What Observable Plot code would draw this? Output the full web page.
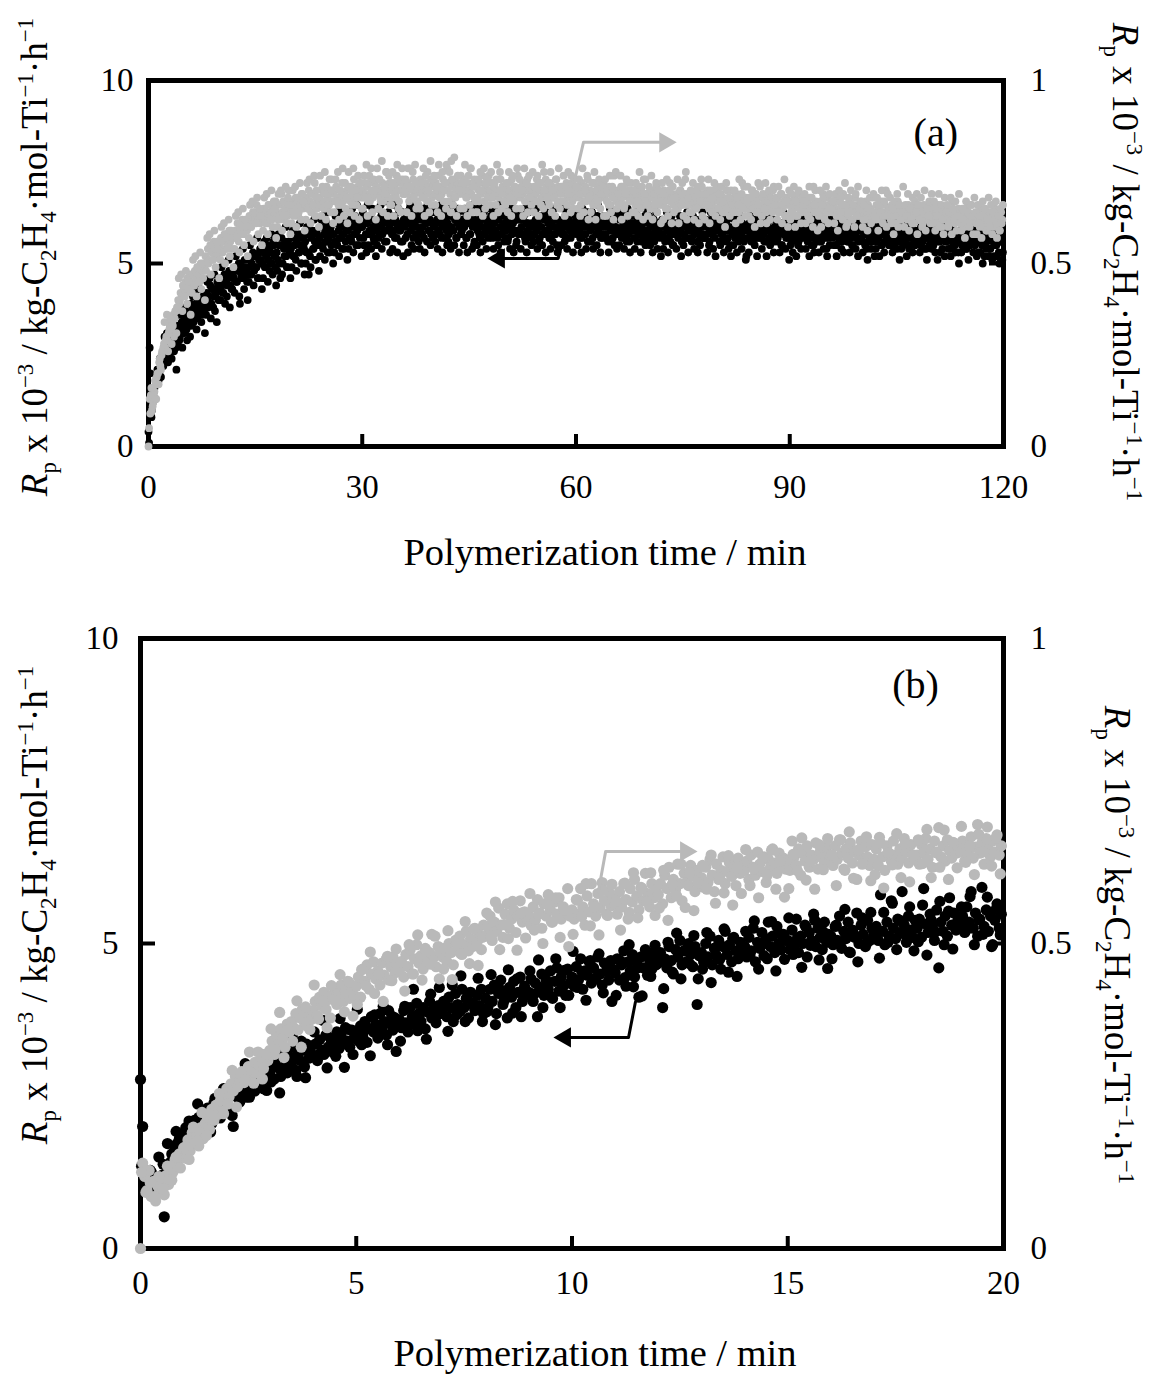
<!DOCTYPE html>
<html><head><meta charset="utf-8">
<script src="https://cdn.jsdelivr.net/npm/d3@7"></script>
<script src="https://cdn.jsdelivr.net/npm/@observablehq/plot@0.6"></script>
<style>
body{margin:0;background:#fff;}
#wrap{position:relative;width:1163px;height:1378px;}
#wrap svg{position:absolute;left:0;overflow:visible;}
</style></head><body><div id="wrap"></div>
<script>
// ---------- tick labels ----------
const xTicksA = [0, 30, 60, 90, 120];
const xTicksB = [0, 5, 10, 15, 20];
const yTicksLeft = [0, 5, 10];
const yTicksRight = [0, 0.5, 1];
const axisTitleX = "Polymerization time / min";
const panelLabels = ["(a)", "(b)"];

// ---------- sampling interval (min) ----------
const stepA = 10 / 60;   // panel (a): readings every 10 s, second set offset by 5 s
const stepB = 3 / 60;    // panel (b): readings every 3 s
const stepB2 = 6 / 60;   // panel (b): extra readings every 6 s, offset 1.5 s

// ---------- panel (a): Rp, left axis, units 0.1 x 10^3 (black) ----------
const rpBlackA = [
4,27,13,10,14,16,18,19,21,20,23,22,
24,27,25,26,28,24,27,29,26,28,30,27,
31,33,29,32,34,31,35,33,32,36,34,30,
36,38,34,37,39,35,38,40,37,36,41,38,
40,42,38,41,44,39,43,41,37,42,45,40,
43,46,44,42,47,45,41,46,48,44,43,47,
46,49,45,48,50,39,47,49,46,51,48,45,
49,51,47,50,53,48,52,49,46,51,54,50,
50,53,49,52,55,51,48,53,50,56,52,49,
53,51,55,46,57,50,54,56,52,49,55,53,
54,57,52,55,51,56,58,53,55,50,57,54,
56,53,58,47,52,57,59,54,56,51,58,55,
57,55,60,54,58,56,61,53,57,59,55,58,
58,56,61,55,59,57,62,54,58,60,56,59,
59,57,62,56,60,58,63,55,59,61,57,60,
60,57,62,58,61,55,59,63,58,60,56,61,
59,62,57,60,63,58,61,56,62,59,64,60,
61,58,63,59,62,57,60,64,59,61,56,62,
60,63,58,61,65,59,62,57,61,64,60,58,
62,59,64,60,57,63,61,66,59,62,58,61,
60,64,58,62,59,65,61,57,63,60,62,59,
61,58,63,60,66,59,62,57,61,64,60,58,
59,62,60,64,57,61,63,58,62,60,55,61,
62,59,61,57,63,60,65,58,60,62,59,61,
60,63,58,61,59,64,57,62,60,58,63,59,
61,59,62,57,60,64,58,61,63,59,56,62,
59,62,60,58,63,57,61,59,64,60,58,61,
60,58,62,59,61,56,63,60,58,62,59,64,
62,59,57,61,60,63,58,60,55,62,59,61,
59,61,58,63,60,57,62,59,61,58,64,60,
60,58,62,59,61,57,60,63,58,60,56,61,
59,61,57,62,60,58,63,59,61,57,60,58,
61,58,60,56,62,59,61,57,60,63,58,59,
58,62,59,60,57,61,58,63,59,56,61,60,
60,57,61,59,62,58,60,56,61,59,63,58,
59,61,57,60,58,62,56,59,61,58,60,57,
61,58,60,56,62,59,57,61,58,60,55,59,
58,60,57,61,59,56,62,58,60,57,61,59,
60,57,59,62,58,60,56,59,61,57,60,58,
57,61,58,60,55,59,62,58,60,57,59,61,
59,56,60,58,61,57,59,62,57,60,55,59,
58,60,57,59,62,56,59,58,61,57,60,51,
59,57,61,58,60,56,59,62,57,60,58,59,
57,60,58,61,56,59,60,57,62,58,59,56,
60,58,57,61,59,55,60,58,61,57,59,60,
58,60,56,59,57,61,58,55,60,57,59,62,
57,59,61,56,58,60,57,59,55,61,58,57,
59,56,58,60,57,61,58,54,59,57,60,58,
57,60,58,55,59,61,57,58,56,60,58,57,
58,56,60,57,59,55,61,58,57,59,56,60,
57,59,56,60,58,54,59,57,61,56,58,57,
59,56,58,57,60,55,58,61,56,59,57,58,
56,59,57,60,55,58,57,61,56,58,54,59,
58,56,59,57,60,55,58,57,61,56,59,57,
57,59,55,58,56,60,57,54,59,57,61,56,
58,55,59,57,60,56,58,53,59,57,60,56,
56,59,57,54,60,56,58,55,59,57,53,58,
57,55,59,56,58,54,60,57,55,58,56,59,
55,58,56,53,59,57,55,58,52,57,56,59,
57,54,58,56,52,59,55,57,53,58,56,51
];
const rpBlackA2 = [
1,20,8,12,15,13,17,21,18,24,19,25,
22,30,25,31,23,28,33,24,29,26,32,21,
28,36,30,38,27,34,31,37,29,35,33,39,
33,41,35,42,32,39,36,43,34,40,38,31,
36,45,39,46,35,43,38,47,41,34,44,40,
40,49,42,50,39,47,44,51,38,48,43,46,
42,52,45,53,41,50,46,54,43,49,47,40,
45,55,47,56,44,52,49,57,46,53,51,43,
46,56,49,57,45,54,50,58,47,55,52,44,
48,58,50,59,47,55,52,60,49,56,54,46,
49,59,52,60,48,57,53,61,50,58,55,47,
50,60,53,61,49,58,54,62,51,59,56,48,
52,62,55,63,51,59,56,64,53,60,58,50,
53,63,56,64,52,60,57,65,54,61,59,51,
54,64,57,65,53,61,58,66,55,62,60,52,
64,55,61,53,66,58,62,54,65,57,60,52,
55,65,58,66,54,62,59,67,56,63,61,53,
63,54,66,57,61,53,65,59,56,64,52,62,
57,64,53,62,66,55,60,54,65,58,63,56,
54,62,58,65,53,61,56,66,59,55,64,57,
65,56,61,54,63,58,66,53,60,57,64,55,
56,63,54,66,59,55,62,57,65,53,61,58,
62,55,65,57,53,64,58,61,54,66,56,60,
55,66,58,53,62,56,64,59,54,61,57,65,
63,57,54,65,58,62,55,66,53,60,64,56,
57,64,56,61,54,66,59,53,63,55,62,58,
64,54,62,58,65,56,53,61,57,66,55,60,
56,61,65,54,60,57,63,55,66,58,53,62,
61,57,54,64,56,65,58,62,53,60,66,55,
58,65,56,62,54,60,64,57,61,53,59,63,
62,55,63,57,53,65,58,61,54,64,56,60,
56,64,54,60,62,55,66,58,53,61,57,63,
63,57,61,53,65,56,59,62,55,60,54,64,
55,62,57,64,54,60,56,65,58,53,63,59,
61,54,64,56,62,58,53,60,57,65,55,62,
56,63,55,60,53,62,57,64,54,59,61,52,
62,54,60,57,64,53,59,56,63,55,61,58,
54,61,58,63,52,60,55,62,57,64,53,59,
60,56,63,54,59,62,53,61,55,58,64,57,
57,62,53,60,56,64,58,54,61,52,63,59,
61,55,58,63,53,60,56,62,54,59,52,64,
55,62,57,53,61,58,63,54,60,56,59,52,
60,53,63,56,58,62,55,59,52,61,57,64,
54,61,56,60,52,63,57,55,62,58,53,60,
62,56,59,53,61,55,64,58,54,60,57,51,
55,60,53,62,57,52,61,56,63,54,59,58,
60,54,61,57,52,63,55,59,53,62,56,58,
53,62,56,59,54,61,57,52,60,55,63,58,
61,55,58,52,62,56,60,54,59,53,57,63,
56,60,53,61,55,58,62,54,57,52,61,59,
59,53,62,55,58,51,60,56,54,61,57,52,
54,60,57,52,61,55,59,53,62,56,58,55,
61,55,53,59,56,62,54,58,51,60,57,55,
56,59,52,61,54,57,60,53,58,55,62,56,
58,53,60,56,62,54,57,51,59,55,61,54,
55,60,53,58,51,61,56,59,54,57,52,60,
60,54,57,52,59,55,62,53,58,56,50,59,
53,58,55,61,54,57,51,59,56,60,53,57,
58,52,56,60,53,57,50,59,55,54,61,52,
54,59,51,57,55,60,52,58,50,56,59,53
];

// ---------- panel (a): Rp, right axis, units 0.01 x 10^3 (grey) ----------
const rpGrayA = [
0,13,14,10,12,15,17,19,20,23,22,25,
26,28,27,30,29,31,33,32,34,36,35,37,
38,40,39,42,41,44,43,45,42,46,44,47,
45,47,44,48,46,49,47,45,50,48,46,49,
52,50,54,51,55,53,51,56,54,52,55,53,
55,57,53,56,58,54,57,55,59,56,54,58,
57,59,58,61,56,60,59,62,58,61,60,59,
61,63,60,62,64,61,63,66,62,64,61,63,
63,65,62,64,61,66,63,64,62,65,63,67,
64,62,66,63,69,64,62,65,67,63,70,64,
65,67,64,66,68,65,63,67,66,69,65,67,
66,68,65,70,67,64,69,66,72,68,65,67,
68,66,70,67,69,65,71,68,66,70,73,67,
69,67,71,68,66,70,68,72,67,69,65,70,
68,71,67,70,69,73,68,66,71,69,72,68,
70,68,72,69,71,67,74,69,70,68,72,70,
71,69,73,68,70,72,67,71,75,70,68,72,
70,72,68,71,69,74,70,67,72,70,73,69,
71,69,72,70,76,68,71,73,69,70,67,72,
70,73,69,71,68,72,70,75,69,71,73,68,
71,69,72,70,74,68,71,69,73,70,72,77,
70,72,69,78,71,68,73,70,72,69,71,74,
69,71,73,70,68,72,70,76,69,71,68,72,
71,68,70,72,69,74,70,67,71,73,69,70,
70,72,68,71,69,73,70,68,75,69,71,70,
69,71,68,72,70,67,73,69,71,68,70,74,
70,68,71,69,72,67,70,73,68,71,69,70,
68,71,69,73,67,70,72,68,70,75,69,71,
70,67,72,69,71,68,70,73,66,71,69,70,
69,71,67,70,72,68,69,71,74,67,70,68,
69,71,68,70,66,72,69,67,71,69,73,68,
70,67,69,72,68,70,66,71,69,68,70,72,
68,70,67,69,71,66,70,68,74,69,67,70,
69,67,71,68,70,66,69,72,68,70,67,69,
68,70,66,69,71,67,68,70,66,73,68,69,
67,69,66,70,68,65,69,67,71,68,66,69,
68,66,70,67,69,65,68,72,67,69,66,68,
67,69,65,68,70,66,68,67,73,66,69,67,
68,66,69,67,65,70,67,68,66,69,71,67,
66,68,67,70,65,68,66,69,67,65,68,70,
67,65,69,66,68,64,67,70,66,68,65,67,
66,68,65,69,67,64,68,66,72,67,65,68,
67,65,68,66,70,65,67,69,64,68,66,71,
65,68,66,67,64,69,66,68,65,67,70,66,
67,65,68,64,66,69,65,67,63,68,66,67,
66,64,67,65,68,63,66,69,65,67,64,66,
65,67,64,66,63,68,65,66,71,64,67,65,
66,64,67,65,69,63,66,65,68,64,66,67,
64,66,65,68,63,67,65,64,66,69,64,66,
65,63,67,64,66,62,65,68,64,66,63,65,
66,64,62,65,67,63,66,64,65,62,68,64,
63,66,64,65,62,67,64,63,66,70,64,65,
64,62,66,63,65,61,64,67,63,65,62,64,
65,63,64,62,66,63,65,61,64,66,63,69,
63,65,62,64,61,66,63,64,62,65,63,66,
64,62,65,63,61,66,63,64,60,65,62,64,
63,65,61,64,62,67,63,61,64,62,65,63,
62,64,63,60,65,62,64,61,63,66,62,63,
63,61,64,62,60,65,62,63,61,64,59,63,
62,64,61,63,60,65,62,61,63,59,64,62
];
const rpGrayA2 = [
5,9,16,11,14,18,13,20,17,24,21,26,
27,34,29,36,26,32,35,28,33,30,37,31,
38,46,40,47,37,44,41,48,39,45,43,36,
42,51,44,52,41,49,45,53,43,50,48,40,
48,57,50,58,47,55,51,59,49,56,54,46,
51,60,53,61,50,58,54,62,52,59,57,49,
54,63,57,64,53,61,58,65,55,62,60,52,
57,66,60,67,56,64,61,68,58,65,63,55,
59,68,61,69,58,66,62,70,60,67,65,57,
60,69,62,70,59,67,63,71,61,68,66,58,
61,70,63,71,60,68,64,72,62,69,67,59,
62,72,65,73,61,69,66,74,63,70,68,60,
74,63,71,65,75,62,69,66,73,64,70,61,
64,73,67,75,62,70,66,76,63,72,68,61,
75,64,71,66,76,63,70,68,74,62,72,65,
65,74,68,77,63,72,67,76,64,73,70,62,
76,65,73,67,78,64,71,69,75,63,74,66,
66,75,63,72,68,77,65,73,64,76,69,70,
73,64,76,67,71,63,75,68,77,65,72,66,
65,72,68,76,63,74,67,70,64,78,66,73,
74,66,71,64,77,68,63,75,67,72,65,76,
67,75,64,73,66,79,68,63,74,70,65,72,
72,65,77,68,63,74,66,76,64,71,73,67,
64,73,67,75,70,63,76,65,72,68,74,66,
75,68,63,72,66,77,64,70,73,65,71,67,
66,72,64,75,68,63,74,67,71,65,76,69,
73,65,70,63,76,67,72,64,74,68,66,75,
64,71,67,74,63,72,66,77,65,70,73,68,
72,66,75,64,70,68,63,73,67,76,65,71,
67,74,63,71,66,75,69,64,72,65,73,70,
71,65,73,63,69,76,64,70,67,74,62,68,
64,72,66,75,62,70,67,73,65,69,71,63,
73,63,70,66,74,64,71,62,68,75,65,69,
66,74,62,71,65,69,73,63,70,67,72,64,
70,64,72,67,63,75,65,71,62,69,73,66,
63,71,65,74,62,69,66,72,64,70,67,61,
72,62,69,65,73,63,70,67,61,71,64,68,
65,73,61,70,66,72,63,69,75,62,68,64,
70,64,72,62,68,65,71,61,67,73,63,69,
62,69,66,73,61,70,64,68,72,63,71,65,
69,62,71,64,67,60,72,65,68,63,70,66,
64,70,61,68,66,73,62,69,65,71,63,67,
71,63,68,62,70,65,60,69,64,72,66,61,
63,69,65,72,61,67,70,62,68,64,71,66,
68,62,71,64,69,61,66,73,63,67,60,70,
62,69,64,71,60,67,63,70,65,61,68,66,
69,61,67,63,71,62,68,60,66,70,64,59,
63,70,60,66,68,62,71,64,61,69,65,67,
67,61,69,63,59,70,64,68,62,66,72,60,
61,68,64,70,62,66,60,69,63,71,65,67,
67,60,66,62,70,59,65,68,61,64,69,63,
62,68,59,66,64,70,61,67,63,60,69,65,
68,61,65,58,67,63,69,60,66,62,64,71,
60,66,63,69,59,65,62,68,61,67,64,58,
66,62,68,60,64,70,59,65,63,67,61,69,
61,67,59,65,63,69,60,66,62,58,68,64,
66,60,64,68,58,65,62,67,59,63,69,61,
59,65,62,57,67,61,64,60,66,63,58,68,
64,58,66,61,63,57,67,60,65,59,62,68,
60,66,58,64,62,67,57,63,59,65,61,66
];

// ---------- panel (b): Rp, left axis, units 0.01 x 10^3 (black) ----------
const rpBlackB = [
277,200,124,118,112,125,108,96,115,105,120,52,118,130,142,155,165,172,180,188,
185,198,176,205,192,210,188,215,200,222,195,230,212,205,238,220,228,214,240,232,
245,232,258,200,250,262,240,270,255,248,275,262,280,258,290,268,276,262,295,282,
290,305,278,312,296,282,320,300,288,315,305,330,292,318,308,325,298,335,312,320,
315,335,308,342,325,318,350,330,345,322,338,355,328,348,335,362,340,330,358,345,
352,340,365,348,372,338,360,380,355,368,345,385,362,372,350,390,368,358,378,365,
375,362,390,370,355,395,380,368,402,385,372,395,360,388,405,378,392,370,398,385,
392,405,380,412,395,372,418,400,388,425,395,410,378,420,402,390,415,398,425,385,
410,395,425,405,432,385,418,440,400,422,378,428,412,438,395,420,445,405,430,415,
420,442,405,435,380,428,450,415,440,425,455,410,438,460,422,445,430,415,458,435,
445,430,462,440,475,425,455,448,470,435,460,442,478,450,432,468,455,440,472,458,
452,475,440,465,488,430,470,455,482,445,468,412,478,460,490,448,472,458,485,465,
468,485,395,475,460,495,472,450,490,478,505,465,488,470,500,482,462,495,400,480,
485,470,500,478,512,465,492,480,505,458,495,520,482,498,470,510,488,475,502,490,
495,478,510,488,525,470,502,492,518,480,508,535,495,512,485,528,500,490,515,505,
505,490,522,498,540,485,512,500,530,478,518,505,548,495,525,510,490,535,502,515,
512,498,528,505,545,492,520,508,535,485,522,510,550,500,530,515,495,538,505,525,
515,528,505,580,520,498,535,512,570,525,508,540,518,585,530,502,545,522,510,538,
525,540,510,590,532,518,548,528,505,555,460,535,520,545,512,575,530,550,522,540,
530,545,518,560,535,585,525,550,512,540,592,528,555,520,545,498,538,565,525,548
];
const rpBlackB2 = [
135,105,128,112,150,138,172,155,192,175,
165,209,194,237,192,219,191,246,222,262,
253,218,283,248,303,248,289,276,317,259,
273,336,255,315,298,351,282,340,280,325,
355,317,374,296,338,315,377,297,359,318,
392,334,362,316,383,355,397,334,381,323,
340,397,370,425,357,388,343,417,376,428,
405,356,432,383,447,372,419,397,443,372,
388,449,367,425,406,457,386,442,380,424,
455,417,473,395,437,413,475,395,456,415,
487,428,454,407,472,443,483,419,464,405,
415,471,444,498,429,460,414,487,446,497,
475,426,502,453,517,442,489,467,513,442,
458,518,436,493,474,524,453,508,446,489,
520,481,537,458,499,475,536,455,516,474,
542,482,509,461,527,497,538,473,519,459,
475,530,502,556,486,516,470,542,500,551,
525,476,551,502,566,490,537,514,560,488,
503,563,481,538,519,569,498,553,491,534,
560,521,577,498,539,515,576,495,556,514
];

// ---------- panel (b): Rp, right axis, units 0.001 x 10^3 (grey) ----------
const rpGrayB = [
0,140,118,95,128,85,110,78,102,92,115,88,120,105,132,125,145,138,155,150,
165,148,178,160,190,172,185,168,198,180,205,215,195,228,210,235,220,242,225,250,
262,248,270,258,282,265,275,290,272,285,298,280,292,305,288,300,312,295,318,308,
325,340,318,352,335,360,345,330,368,355,372,362,385,358,378,392,370,365,385,375,
390,405,382,412,398,420,392,408,378,415,425,400,418,432,405,422,438,410,428,415,
430,445,412,458,438,465,425,450,470,442,455,432,468,448,475,440,462,478,452,465,
455,470,445,482,462,490,450,475,498,468,480,458,492,472,485,515,478,462,495,485,
478,492,470,500,485,465,505,490,512,482,498,520,488,508,495,525,502,515,490,530,
512,528,545,505,535,520,558,530,510,548,565,525,540,555,518,545,570,535,552,540,
545,530,560,538,572,550,525,565,545,580,555,535,568,548,575,540,560,552,590,545,
555,540,572,548,590,560,530,578,552,598,565,545,582,558,600,570,548,585,562,575,
565,548,585,560,598,572,540,590,568,605,578,555,592,570,615,582,560,598,575,588,
580,598,565,612,590,625,575,605,588,630,598,570,615,600,595,628,610,585,620,605,
608,592,625,600,638,612,585,630,605,620,642,598,618,632,610,625,595,640,615,628,
620,635,605,645,625,612,650,630,618,642,600,638,625,655,632,615,648,628,640,622,
635,620,668,642,628,655,612,648,635,660,625,645,638,665,622,650,640,632,658,645,
642,628,660,638,670,648,622,655,640,665,632,650,605,645,668,635,658,642,628,662,
638,655,628,665,642,620,660,648,635,668,645,630,655,640,672,650,632,662,645,638,
645,630,662,648,672,638,655,625,668,650,690,642,660,635,670,652,640,665,648,658,
650,668,635,660,645,675,640,658,695,648,665,630,672,655,642,668,650,678,645,660
];
const rpGrayB2 = [
125,92,108,85,118,98,135,112,150,132,
166,146,199,177,223,185,221,217,254,221,
237,292,232,285,276,322,271,322,278,319,
360,326,387,313,359,340,406,330,396,359,
432,376,406,362,431,405,449,388,437,381,
400,457,431,486,418,450,405,479,439,491,
470,422,498,450,514,440,487,466,512,442,
458,521,441,500,483,536,467,524,464,510,
550,512,568,490,531,508,569,489,550,509,
582,522,548,500,565,535,575,510,555,495,
515,571,544,598,529,560,514,587,546,597,
570,522,599,551,616,542,590,569,616,546,
558,620,538,597,578,630,559,616,554,599,
628,589,645,566,607,583,644,563,624,582,
654,595,622,575,641,612,653,589,635,576,
590,646,619,673,604,635,589,662,621,672,
645,595,670,620,683,607,653,630,675,603,
613,674,591,649,629,680,608,664,601,645,
670,631,687,608,649,625,686,605,666,624,
692,633,660,613,679,650,691,627,673,614
];

// ---------- annotation arrows (data units: min, left-axis value) ----------
const arrowShaftsA = [
  {s: "grey",  pts: [[59.8, 7.27], [61.05, 8.31], [72.0, 8.31]]},
  {s: "black", pts: [[58.4, 5.82], [57.5, 5.14], [49.6, 5.14]]}
];
const arrowHeadsA = [{s: "grey", x: 72.5, y: 8.31, rot: 90}, {s: "black", x: 49.2, y: 5.14, rot: -90}];
const arrowShaftsB = [
  {s: "grey",  pts: [[10.61, 5.85], [10.78, 6.51], [12.5, 6.51]]},
  {s: "black", pts: [[11.47, 4.04], [11.31, 3.46], [9.95, 3.46]]}
];
const arrowHeadsB = [{s: "grey", x: 12.64, y: 6.51, rot: 90}, {s: "black", x: 9.84, y: 3.46, rot: -90}];
const panelLabelPos = [{x: 110.5, y: 8.55}, {x: 17.96, y: 9.23}];

// ---------- styling ----------
const GREY = "#b9b9b9";
const FONT = '"Liberation Serif", "Times New Roman", serif';
const colorOf = s => s === "grey" ? GREY : "#000";

const toPts = (arr, step, k, off = 0) => arr.map((v, i) => ({t: (i + off) * step, y: v * k}));
const blackA = toPts(rpBlackA, stepA, 0.1).concat(toPts(rpBlackA2, stepA, 0.1, 0.5));
const greyA  = toPts(rpGrayA,  stepA, 0.1).concat(toPts(rpGrayA2, stepA, 0.1, 0.5)); // right value (v/100) x 10
const blackB = toPts(rpBlackB, stepB, 0.01).concat(toPts(rpBlackB2, stepB2, 0.01, 0.25));
const greyB  = toPts(rpGrayB,  stepB, 0.01).concat(toPts(rpGrayB2, stepB2, 0.01, 0.25)); // right value (v/1000) x 10

const shaftRows = shafts => shafts.flatMap((a, j) => a.pts.map(([x, y]) => ({x, y, s: a.s, id: j})));

function panel({xDomain, xTicks, blk, gry, r, shafts, heads, label, lpos, height, mt, mb, ml, xPad, yPadL, tick}) {
  return Plot.plot({
    width: 1163, height,
    marginLeft: ml, marginRight: 160, marginTop: mt, marginBottom: mb,
    x: {domain: xDomain},
    y: {domain: [0, 10]},
    style: {fontFamily: FONT, fontSize: "33px", color: "#000", background: "transparent", overflow: "visible"},
    marks: [
      Plot.frame({stroke: "#000", strokeWidth: 5}),
      Plot.axisX({ticks: xTicks.slice(1, -1), tickSize: -tick, fill: "none", strokeWidth: 4, label: null}),
      Plot.axisY({anchor: "left", ticks: [5], tickSize: -15, fill: "none", strokeWidth: 4, label: null}),
      Plot.axisY({anchor: "right", ticks: [5], tickSize: -15, fill: "none", strokeWidth: 4, label: null}),
      Plot.axisX({ticks: xTicks, tickSize: 0, tickPadding: xPad, label: null, fontSize: 33}),
      Plot.axisY({anchor: "left", ticks: yTicksLeft, tickSize: 0, tickPadding: yPadL, label: null, fontSize: 33}),
      Plot.axisY({anchor: "right", ticks: yTicksRight.map(v => v * 10), tickFormat: d => String(yTicksRight[yTicksRight.map(v => v * 10).indexOf(d)]), tickSize: 0, tickPadding: 27, label: null, fontSize: 33}),
      Plot.dot(blk, {x: "t", y: "y", r, fill: "#000"}),
      Plot.dot(gry, {x: "t", y: "y", r, fill: GREY}),
      Plot.line(shaftRows(shafts), {x: "x", y: "y", z: "id", stroke: d => colorOf(d.s), strokeWidth: 3}),
      Plot.dot(heads, {x: "x", y: "y", symbol: "triangle", r: 7.5, rotate: "rot", fill: d => colorOf(d.s), stroke: "none"}),
      Plot.text([lpos], {x: "x", y: "y", text: () => label, fontSize: 40, fontFamily: FONT, fill: "#000"})
    ]
  });
}

function richLabel(svg, x, y, rot, size, parts) {
  const t = d3.select(svg).append("text")
    .attr("transform", `translate(${x},${y}) rotate(${rot})`)
    .attr("text-anchor", "middle")
    .attr("font-family", FONT).attr("font-size", size).attr("fill", "#000");
  let shift = 0;
  for (const p of parts) {
    const target = p.sub ? 0.25 * size : p.sup ? -0.38 * size : 0;
    const ts = t.append("tspan").text(p.t).attr("dy", target - shift);
    shift = target;
    if (p.sub || p.sup) ts.attr("font-size", size * 0.62);
    if (p.i) ts.attr("font-style", "italic");
  }
}
const yTitleParts = [
  {t: "R", i: true}, {t: "p", sub: true}, {t: " x 10"}, {t: "\u22123", sup: true},
  {t: " / kg-C"}, {t: "2", sub: true}, {t: "H"}, {t: "4", sub: true},
  {t: "\u00B7mol-Ti"}, {t: "\u22121", sup: true}, {t: "\u00B7h"}, {t: "\u22121", sup: true}
];
function plainText(svg, x, y, size, str) {
  d3.select(svg).append("text").attr("x", x).attr("y", y).attr("text-anchor", "middle")
    .attr("font-family", FONT).attr("font-size", size).attr("fill", "#000").text(str);
}

const wrap = document.getElementById("wrap");

const svgA = panel({xDomain: [0, 120], xTicks: xTicksA, blk: blackA, gry: greyA, r: 3.9,
  shafts: arrowShaftsA, heads: arrowHeadsA, label: panelLabels[0], lpos: panelLabelPos[0],
  height: 580, mt: 80, mb: 134, ml: 148, xPad: 28, yPadL: 15, tick: 12});
svgA.style.top = "0px";
wrap.appendChild(svgA);
richLabel(svgA, 47, 257, -90, 37, yTitleParts);
richLabel(svgA, 1113, 262, 90, 37, yTitleParts);
plainText(svgA, 605, 565, 38.5, axisTitleX);

const svgB = panel({xDomain: [0, 20], xTicks: xTicksB, blk: blackB, gry: greyB, r: 5.6,
  shafts: arrowShaftsB, heads: arrowHeadsB, label: panelLabels[1], lpos: panelLabelPos[1],
  height: 798, mt: 58, mb: 130, ml: 140, xPad: 22, yPadL: 22, tick: 12});
svgB.style.top = "580px";
wrap.appendChild(svgB);
richLabel(svgB, 47, 325, -90, 37, yTitleParts);
richLabel(svgB, 1105, 365, 90, 37, yTitleParts);
plainText(svgB, 595, 786, 38.5, axisTitleX);
</script></body></html>
